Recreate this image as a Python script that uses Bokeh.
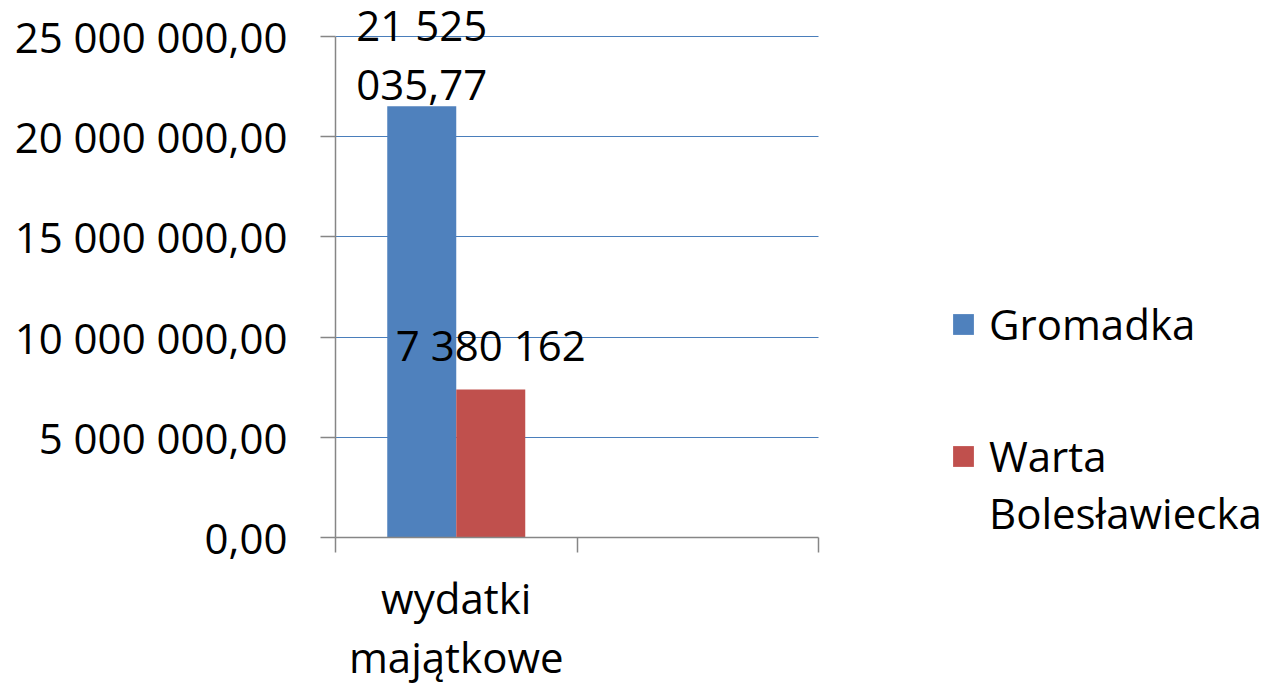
from bokeh.plotting import figure
from bokeh.models import (Range1d, FixedTicker, Legend, LegendItem,
                          ColumnDataSource, LabelSet)
from bokeh.core.properties import value
from bokeh.embed import file_html
from bokeh.resources import INLINE

# ---- data ----
categories = ["wydatki\nmajątkowe", ""]
series = ["Gromadka", "Warta\nBolesławiecka"]
values = [21525035.77, 7380162]
value_labels = ["21 525\n035,77", "7 380 162"]
y_ticks = [0, 5000000, 10000000, 15000000, 20000000, 25000000]
colors = ["#4F81BD", "#C0504D"]

FONT = "Open Sans"
FS = "42px"
LH = 1.04

# ---- layout (pixels) ----
W, H = 1270, 683
LEFT, BOTTOM_PX = 335, 537          # frame left edge, y pixel of the value axis zero
AXIS_TOP_PX = 36                    # y pixel of the highest tick
CAT_PX = 241.5                      # width of one category slot


def fmt(v):
    return f"{v:,.2f}".replace(",", " ").replace(".", ",")


n_cat = len(categories)
n_ser = len(series)
bar_w = 1.0 / (n_ser + 1.5)  # Excel gap width 150%

frame_w = W - LEFT
frame_h = BOTTOM_PX
y_max = y_ticks[-1] * BOTTOM_PX / (BOTTOM_PX - AXIS_TOP_PX)
x_max = frame_w / CAT_PX

p = figure(width=W, height=H, output_backend="svg", toolbar_location=None,
           x_range=Range1d(0, x_max), y_range=Range1d(y_ticks[0], y_max),
           min_border_left=LEFT, min_border_right=0, min_border_top=0,
           min_border_bottom=H - BOTTOM_PX, frame_width=frame_w, frame_height=frame_h)
p.outline_line_color = None
p.background_fill_color = "white"
p.border_fill_color = "white"

# horizontal grid lines limited to the category slots
p.xgrid.grid_line_color = None
if "cross_bounds" in p.ygrid.properties():
    p.ygrid.ticker = FixedTicker(ticks=y_ticks)
    p.ygrid.cross_bounds = (0, n_cat)
    p.ygrid.grid_line_color = "#4A7EBB"
    p.ygrid.grid_line_width = 1.2
else:
    p.ygrid.grid_line_color = None
    p.segment(x0=[0] * len(y_ticks), x1=[n_cat] * len(y_ticks), y0=y_ticks, y1=y_ticks,
              line_color="#4A7EBB", line_width=1.2, level="underlay")

renderers = []
offsets = [-6, 17]
for i, (s, v) in enumerate(zip(series, values)):
    cx = 0 + 0.5 + (i - (n_ser - 1) / 2) * bar_w
    src = ColumnDataSource(dict(x=[cx], top=[v], t=[value_labels[i]]))
    r = p.vbar(x="x", top="top", bottom=0, width=bar_w, source=src,
               fill_color=colors[i], line_color=None)
    renderers.append(r)
    ls = LabelSet(x="x", y="top", text="t", source=src, text_align="center",
                  text_baseline="bottom", y_offset=offsets[i], text_line_height=LH,
                  text_font=value(FONT), text_font_size=value(FS), text_color="black")
    p.add_layout(ls)

# y axis
p.yaxis.bounds = (y_ticks[0], y_ticks[-1])
p.yaxis.ticker = FixedTicker(ticks=y_ticks, minor_ticks=[])
p.yaxis.major_label_overrides = {t: fmt(t) for t in y_ticks}
p.yaxis.major_tick_out = 15
p.yaxis.major_tick_in = 0
p.yaxis.major_label_standoff = 33
p.yaxis.axis_line_color = "#868686"
p.yaxis.axis_line_width = 1.5
p.yaxis.major_tick_line_color = "#868686"
p.yaxis.major_tick_line_width = 1.5
p.yaxis.major_label_text_font = FONT
p.yaxis.major_label_text_font_size = FS
p.yaxis.major_label_text_color = "black"

# x axis: labels at category centers, ticks at category boundaries
centers = [i + 0.5 for i in range(n_cat)]
p.xaxis.bounds = (0, n_cat)
p.xaxis.ticker = FixedTicker(ticks=centers, minor_ticks=list(range(n_cat + 1)))
p.xaxis.major_label_overrides = {c: lab for c, lab in zip(centers, categories)}
p.xaxis.major_tick_out = 0
p.xaxis.major_tick_in = 0
p.xaxis.minor_tick_out = 15
p.xaxis.minor_tick_in = 0
p.xaxis.minor_tick_line_color = "#868686"
p.xaxis.minor_tick_line_width = 1.5
p.xaxis.axis_line_color = "#868686"
p.xaxis.axis_line_width = 1.5
p.xaxis.major_label_standoff = 16
p.xaxis.major_label_text_font = FONT
p.xaxis.major_label_text_font_size = FS
p.xaxis.major_label_text_line_height = LH
p.xaxis.major_label_text_color = "black"


def legend_label(s):
    # pad with empty lines so the swatch sits beside the first line of the label
    n = s.count("\n")
    return "\n" * n + s


legend = Legend(items=[LegendItem(label=legend_label(s), renderers=[r])
                       for s, r in zip(series, renderers)],
                location=(950 - LEFT, -4), orientation="vertical")
legend.padding = 0
legend.margin = 0
legend.border_line_color = None
legend.background_fill_alpha = 0
legend.glyph_width = 26
legend.glyph_height = 26
legend.label_standoff = 13
legend.spacing = 18
legend.label_text_font = FONT
legend.label_text_font_size = FS
legend.label_text_line_height = LH
legend.label_text_color = "black"
p.add_layout(legend, "center")

open("out.html", "w").write(file_html(p, INLINE))
